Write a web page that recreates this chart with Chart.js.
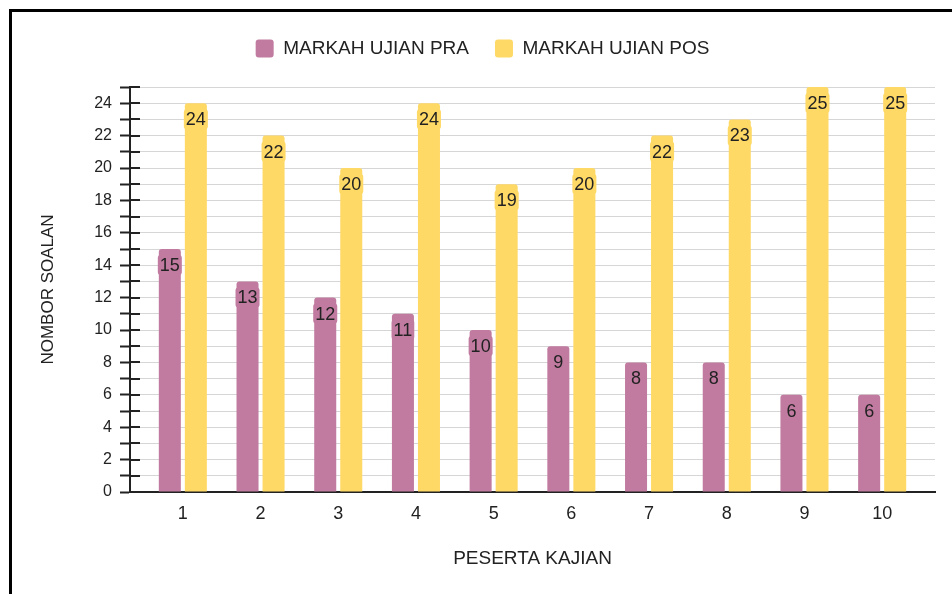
<!DOCTYPE html>
<html>
<head>
<meta charset="utf-8">
<script src="https://cdn.jsdelivr.net/npm/chart.js@4.4.1/dist/chart.umd.min.js"></script>
<style>
  html, body { margin: 0; padding: 0; background: #fff; overflow: hidden; }
  #wrap { position: relative; width: 952px; height: 594px; }
  #frame { position: absolute; left: 9px; top: 9px; width: 2000px; height: 2000px;
           border: 3px solid #000; pointer-events: none; }
  canvas { position: absolute; left: 0; top: 0; }
</style>
</head>
<body>
<div id="wrap">
  <div id="frame"></div>
  <canvas id="chart" width="952" height="594"></canvas>
</div>
<script>
const peserta = [1, 2, 3, 4, 5, 6, 7, 8, 9, 10];
const markahPra = [15, 13, 12, 11, 10, 9, 8, 8, 6, 6];
const markahPos = [24, 22, 20, 24, 19, 20, 22, 23, 25, 25];

const PINK = '#c27ba0';
const YELLOW = '#ffd966';
const TEXT = '#222';
const FONT = '"Liberation Sans", Arial, sans-serif';

// angka di bahagian atas setiap bar
const barLabels = {
    id: 'barLabels',
    afterDatasetsDraw(chart) {
        const ctx = chart.ctx;
        ctx.save();
        ctx.font = '18px ' + FONT;
        ctx.textAlign = 'center';
        ctx.textBaseline = 'middle';
        chart.data.datasets.forEach((ds, i) => {
            chart.getDatasetMeta(i).data.forEach((bar, j) => {
                const txt = String(ds.data[j].y);
                const w = ctx.measureText(txt).width + 4;
                const cy = bar.y + 16;
                ctx.fillStyle = ds.backgroundColor;
                ctx.beginPath();
                ctx.roundRect(bar.x - w / 2, cy - 10, w, 20, 3);
                ctx.fill();
                ctx.fillStyle = TEXT;
                ctx.fillText(txt, bar.x, cy + 1);
            });
        });
        ctx.restore();
    }
};

// tanda tick hitam yang melintasi paksi y
const innerTicks = {
    id: 'innerTicks',
    afterDraw(chart) {
        const y = chart.scales.y;
        const left = chart.chartArea.left;
        const ctx = chart.ctx;
        ctx.save();
        ctx.strokeStyle = TEXT;
        ctx.lineWidth = 2;
        y.ticks.forEach(t => {
            const py = Math.round(y.getPixelForValue(t.value));
            ctx.beginPath();
            ctx.moveTo(left, py);
            ctx.lineTo(left + 10, py);
            ctx.stroke();
        });
        ctx.restore();
    }
};

// ruang tambahan di bawah legend
const legendGap = {
    id: 'legendGap',
    beforeInit(chart) {
        const fit = chart.legend.fit;
        chart.legend.fit = function () {
            fit.bind(chart.legend)();
            this.height += 19;
        };
    }
};

new Chart(document.getElementById('chart'), {
    type: 'bar',
    data: {
        datasets: [{
            label: 'MARKAH UJIAN PRA',
            data: peserta.map((p, i) => ({ x: p, y: markahPra[i] })),
            backgroundColor: PINK,
            borderRadius: 3,
            categoryPercentage: 0.67,
            barPercentage: 0.846
        }, {
            label: 'MARKAH UJIAN POS',
            data: peserta.map((p, i) => ({ x: p, y: markahPos[i] })),
            backgroundColor: YELLOW,
            borderRadius: 3,
            categoryPercentage: 0.67,
            barPercentage: 0.846
        }]
    },
    options: {
        responsive: false,
        animation: false,
        layout: { padding: { left: 30, right: 17, top: 13, bottom: 20 } },
        plugins: {
            legend: {
                display: true,
                position: 'top',
                labels: {
                    color: TEXT,
                    font: { size: 19, family: FONT },
                    boxWidth: 18,
                    boxHeight: 18,
                    padding: 26,
                    useBorderRadius: true,
                    borderRadius: 3
                }
            },
            tooltip: { enabled: false }
        },
        scales: {
            x: {
                type: 'linear',
                offset: false,
                min: 0.32,
                max: 10.68,
                afterBuildTicks(scale) {
                    scale.ticks = peserta.map(v => ({ value: v }));
                },
                afterFit(scale) { scale.height = 82; },
                grid: { display: false, drawTicks: false },
                border: { display: true, color: TEXT, width: 2 },
                ticks: {
                    color: TEXT,
                    padding: 11,
                    font: { size: 18, family: FONT }
                },
                title: {
                    display: true,
                    text: 'PESERTA KAJIAN',
                    color: TEXT,
                    padding: { top: 0, bottom: 4 },
                    font: { size: 19, family: FONT }
                }
            },
            y: {
                min: 0,
                max: 25,
                afterFit(scale) { scale.width = 100; },
                grid: {
                    color: '#d6d6d6',
                    lineWidth: 1,
                    tickColor: TEXT,
                    tickWidth: 2,
                    tickLength: 10
                },
                border: { display: true, color: TEXT, width: 2 },
                ticks: {
                    stepSize: 1,
                    autoSkip: false,
                    color: TEXT,
                    padding: 8,
                    font: { size: 16, family: FONT },
                    callback: v => (v % 2 === 0 ? v : '')
                },
                title: {
                    display: true,
                    text: 'NOMBOR SOALAN',
                    color: TEXT,
                    padding: { top: 8, bottom: 0 },
                    font: { size: 17, family: FONT }
                }
            }
        }
    },
    plugins: [barLabels, innerTicks, legendGap]
});
</script>
</body>
</html>
